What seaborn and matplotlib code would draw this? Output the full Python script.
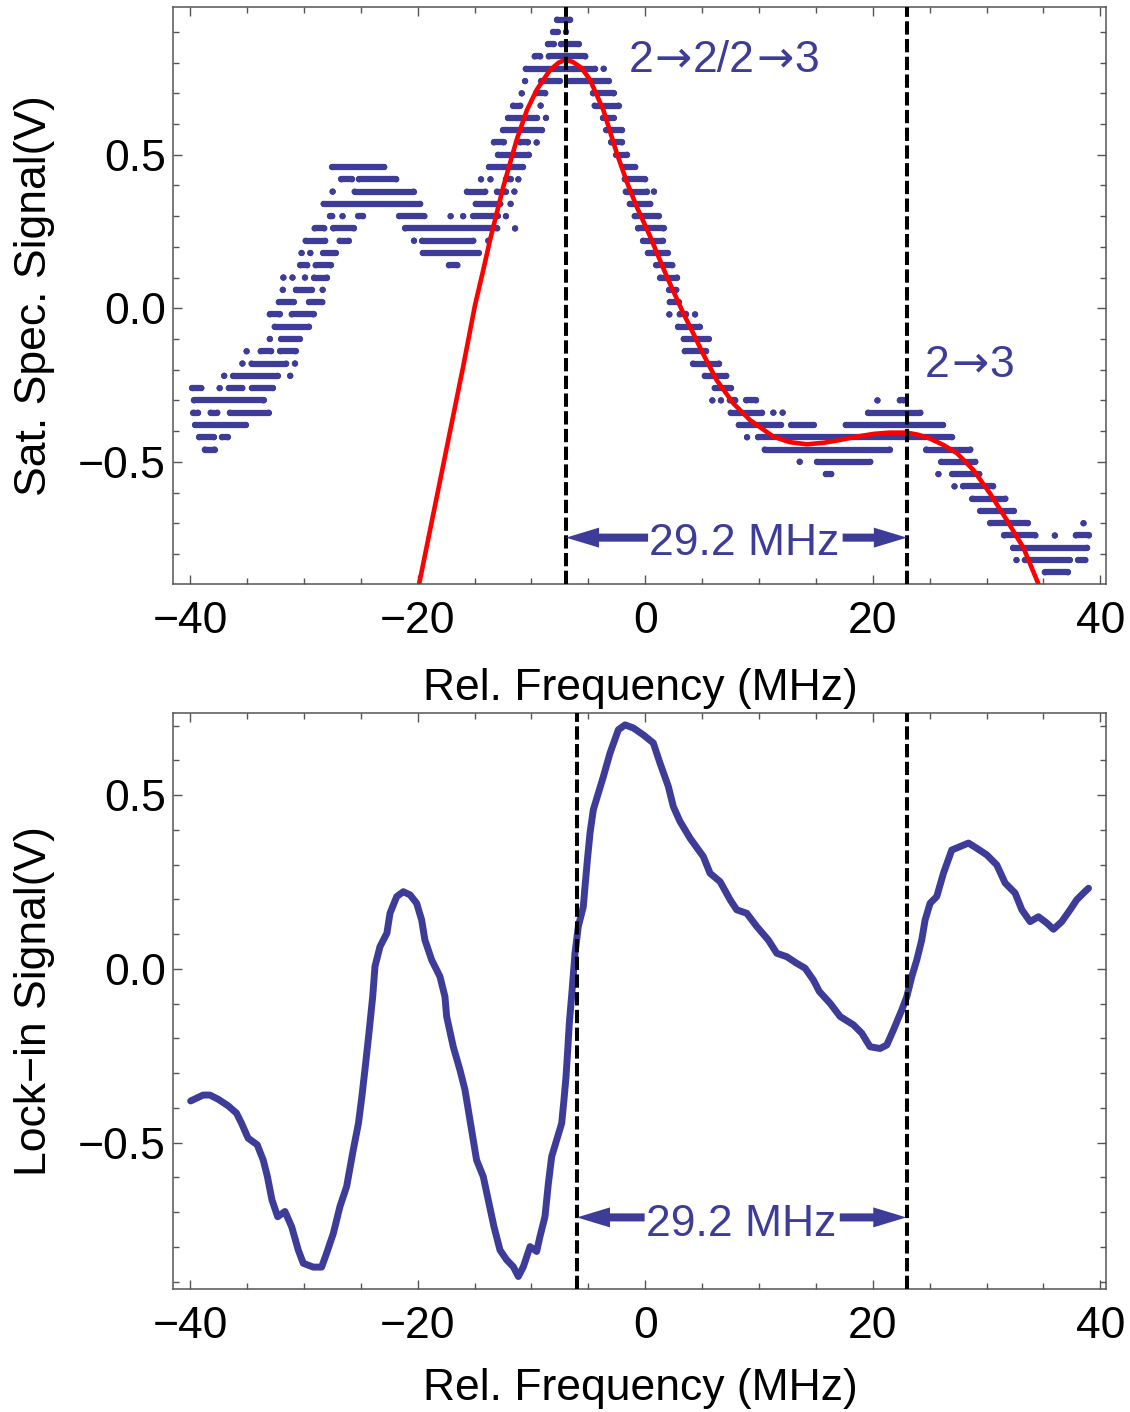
import numpy as np
import pandas as pd
import matplotlib
matplotlib.use("Agg")
import matplotlib.pyplot as plt
import seaborn as sns
from matplotlib.ticker import MultipleLocator, FuncFormatter

# ---------------- data ----------------
# Saturated-absorption signal: digitised levels (V) shown as horizontal runs of samples
# each run: level, start frequency, end frequency (MHz); start == end means a single sample
sat_level = [
    0.94,
    0.90, 0.90,
    0.86, 0.86,
    0.82, 0.82,
    0.78, 0.78,
    0.74, 0.74, 0.74,
    0.70, 0.70, 0.70,
    0.66, 0.66, 0.66,
    0.62, 0.62, 0.62,
    0.58, 0.58,
    0.54, 0.54, 0.54, 0.54,
    0.50, 0.50,
    0.46, 0.46, 0.46,
    0.42, 0.42, 0.42, 0.42, 0.42, 0.42, 0.42,
    0.38, 0.38, 0.38, 0.38, 0.38, 0.38, 0.38,
    0.34, 0.34, 0.34, 0.34,
    0.30, 0.30, 0.30, 0.30, 0.30, 0.30, 0.30, 0.30, 0.30,
    0.26, 0.26, 0.26, 0.26, 0.26,
    0.22, 0.22, 0.22, 0.22, 0.22, 0.22,
    0.18, 0.18, 0.18, 0.18, 0.18,
    0.14, 0.14, 0.14, 0.14,
    0.10, 0.10, 0.10, 0.10, 0.10,
    0.06, 0.06, 0.06, 0.06,
    0.02, 0.02, 0.02,
    -0.02, -0.02, -0.02, -0.02, -0.02,
    -0.06, -0.06,
    -0.10, -0.10, -0.10,
    -0.14, -0.14, -0.14, -0.14,
    -0.18, -0.18, -0.18, -0.18,
    -0.22, -0.22, -0.22, -0.22,
    -0.26, -0.26, -0.26, -0.26, -0.26,
    -0.30, -0.30, -0.30, -0.30, -0.30, -0.30, -0.30,
    -0.34, -0.34, -0.34, -0.34, -0.34, -0.34, -0.34,
    -0.38, -0.38, -0.38, -0.38,
    -0.42, -0.42, -0.42, -0.42,
    -0.46, -0.46, -0.46,
    -0.50, -0.50, -0.50,
    -0.54, -0.54, -0.54,
    -0.58, -0.58,
    -0.62,
    -0.66,
    -0.70, -0.70,
    -0.74, -0.74, -0.74,
    -0.78,
    -0.82, -0.82, -0.82,
    -0.86,
]
sat_x0 = [
    -7.75,
    -8.1, -6.96,
    -8.55, -7.4,
    -9.72, -8.48,
    -10.5, -3.65,
    -10.56, -9.13, -6.64,
    -10.85, -9.57, -4.59,
    -11.6, -9.19, -4.45,
    -12.06, -8.72, -3.71,
    -12.5, -3.41,
    -13.3, -11.0, -9.54, -2.98,
    -12.94, -2.53,
    -27.5, -13.73, -1.95,
    -26.7, -25.16, -14.43, -13.6, -12.24, -11.15, -1.8,
    -27.47, -25.54, -15.67, -13.03, -11.5, -1.71, 0.77,
    -28.27, -14.9, -11.83, -1.36,
    -27.7, -26.6, -25.2, -21.6, -17.1, -16.0, -15.1, -12.24, -0.93,
    -29.06, -27.4, -21.1, -11.44, -0.63,
    -29.85, -26.86, -20.32, -19.6, -13.79, -0.19,
    -30.2, -29.43, -28.3, -19.55, 0.24,
    -30.3, -28.97, -17.25, 0.98,
    -31.8, -31.0, -29.9, -29.1, 1.33,
    -31.85, -30.7, -28.35, 2.1,
    -32.2, -29.55, 2.15,
    -33.0, -31.07, 2.12, 3.03, 4.38,
    -32.57, 2.89,
    -32.99, -31.99, 3.38,
    -35.03, -33.8, -32.07, 3.47,
    -35.4, -34.6, -30.78, 4.2,
    -37.0, -36.2, -31.2, 5.23,
    -39.8, -37.4, -36.6, -34.57, 6.1,
    -39.66, 5.9, 6.66, 7.43, 8.89, 20.41, 22.37,
    -39.7, -38.2, -36.5, 7.51, 11.26, 12.08, 19.59,
    -39.55, 8.22, 12.85, 17.62,
    -39.2, -37.2, 8.95, 9.92,
    -38.7, 10.5, 24.71,
    13.58, 15.1, 26.03,
    15.87, 25.77, 27.0,
    27.18, 27.94,
    28.76,
    29.46,
    30.34, 38.52,
    31.54, 36.0, 37.84,
    32.33,
    32.63, 33.36, 38.05,
    35.12,
]
sat_x1 = [
    -6.6,
    -7.7, -6.96,
    -8.05, -5.85,
    -9.22, -5.26,
    -4.4, -3.65,
    -10.56, -7.52, -3.21,
    -10.85, -8.78, -2.77,
    -10.97, -9.19, -2.34,
    -9.51, -8.72, -2.77,
    -9.07, -2.04,
    -12.44, -10.33, -9.54, -2.04,
    -10.24, -1.6,
    -22.93, -10.74, -0.87,
    -25.77, -21.88, -14.43, -13.6, -11.83, -11.15, 0.0,
    -27.47, -20.35, -14.05, -12.24, -11.5, 0.16, 0.77,
    -19.77, -12.73, -11.83, 0.45,
    -27.5, -26.6, -24.8, -19.4, -17.1, -16.0, -12.97, -12.24, 1.18,
    -28.2, -25.6, -13.0, -11.44, 1.62,
    -28.12, -26.07, -20.32, -15.1, -13.79, 1.56,
    -30.2, -29.43, -27.2, -14.64, 1.97,
    -29.7, -27.62, -16.5, 2.39,
    -31.8, -31.0, -29.9, -27.97, 2.8,
    -31.85, -29.3, -28.35, 2.74,
    -30.9, -28.37, 2.94,
    -32.13, -29.15, 2.12, 3.59, 4.38,
    -29.55, 4.79,
    -32.99, -30.37, 5.58,
    -35.03, -32.87, -30.73, 5.35,
    -35.4, -31.55, -30.78, 6.49,
    -37.0, -32.3, -31.2, 7.13,
    -39.0, -37.4, -35.4, -32.72, 7.54,
    -33.54, 5.9, 6.66, 7.92, 9.74, 20.41, 22.72,
    -39.3, -37.6, -33.1, 10.27, 11.26, 12.08, 24.19,
    -35.1, 11.94, 14.81, 26.18,
    -37.9, -36.7, 8.95, 26.97,
    -37.85, 21.49, 28.58,
    13.58, 19.79, 29.02,
    16.36, 25.77, 29.37,
    27.18, 30.58,
    31.66,
    32.39,
    33.62, 38.52,
    34.3, 36.0, 38.99,
    38.84,
    32.63, 37.29, 38.69,
    37.14,
]

# fitted curve (red)
fit_x = [-20.3, -19.86, -19.0, -18.0, -17.0, -16.0, -14.96, -14.2, -13.64, -12.47,
         -11.3, -10.4, -9.54, -8.37, -7.6, -7.05, -6.4, -5.6, -4.85, -3.68,
         -2.5, -1.6, -0.75, 0.42, 1.2, 2.03, 3.35, 4.2, 5.11, 6.28,
         7.75, 9.21, 11.26, 12.7, 14.2, 15.7, 17.1, 18.6, 20.1, 21.5,
         23.0, 24.0, 25.0, 26.2, 27.4, 28.85, 30.3, 31.78, 33.24, 34.56, 34.9]
fit_y = [-0.98, -0.896, -0.739, -0.556, -0.373, -0.19, 0.01, 0.13, 0.222, 0.396,
         0.548, 0.645, 0.711, 0.776, 0.800, 0.809, 0.803, 0.783, 0.744, 0.646,
         0.505, 0.41, 0.331, 0.235, 0.165, 0.092, -0.016, -0.08, -0.15, -0.234,
         -0.31, -0.364, -0.418, -0.436, -0.443, -0.438, -0.429, -0.418, -0.409, -0.405,
         -0.405, -0.412, -0.424, -0.445, -0.472, -0.527, -0.603, -0.69, -0.78, -0.898, -0.93]

# lock-in (error) signal
lock_x = [-39.95, -38.85, -38.26, -37.53, -36.65, -35.92, -35.48, -34.9, -34.1, -33.57,
          -33.2, -32.8, -32.3, -31.66, -31.07, -30.49, -30.05, -29.17, -28.44, -28.0,
          -27.41, -26.83, -26.24, -25.66, -25.2, -24.9, -24.6, -24.28, -23.95, -23.75,
          -23.31, -22.7, -22.43, -21.84, -21.26, -20.67, -20.09, -19.65, -19.36, -18.77,
          -18.04, -17.6, -17.45, -16.87, -16.28, -15.84, -15.26, -14.82, -14.23, -13.79,
          -13.29, -12.76, -12.18, -11.59, -11.15, -10.71, -10.12, -9.54, -9.25, -8.81,
          -8.51, -8.22, -7.78, -7.34, -7.14, -6.96, -6.81, -6.67, -6.46, -6.17,
          -5.88, -5.44, -5.29, -5.08, -4.85, -4.56, -4.12, -3.68, -3.09, -2.36,
          -1.77, -1.04, -0.16, 0.71, 1.3, 2.03, 2.47, 3.06, 3.94, 5.11,
          5.7, 6.58, 7.46, 8.04, 8.92, 9.8, 10.82, 11.56, 12.44, 13.32,
          14.05, 14.78, 15.3, 16.25, 17.13, 18.3, 19.03, 19.76, 20.64, 21.23,
          21.81, 22.55, 22.99, 23.43, 23.87, 24.3, 24.6, 25.04, 25.62, 26.21,
          26.94, 27.67, 28.41, 29.14, 30.02, 30.9, 31.63, 32.51, 33.1, 33.83,
          34.56, 35.29, 35.88, 36.61, 37.34, 37.93, 38.51, 38.96]
lock_y = [-0.38, -0.363, -0.363, -0.375, -0.394, -0.415, -0.444, -0.487, -0.506, -0.55,
          -0.598, -0.665, -0.713, -0.698, -0.742, -0.809, -0.847, -0.858, -0.858, -0.818,
          -0.761, -0.684, -0.626, -0.521, -0.444, -0.367, -0.281, -0.185, -0.08, 0.007,
          0.064, 0.103, 0.16, 0.208, 0.222, 0.213, 0.189, 0.141, 0.083, 0.026,
          -0.022, -0.08, -0.137, -0.224, -0.291, -0.348, -0.463, -0.55, -0.598, -0.665,
          -0.742, -0.809, -0.837, -0.857, -0.885, -0.857, -0.799, -0.813, -0.77, -0.713,
          -0.617, -0.54, -0.492, -0.444, -0.377, -0.31, -0.233, -0.156, -0.075, 0.045,
          0.122, 0.179, 0.237, 0.314, 0.391, 0.458, 0.506, 0.553, 0.621, 0.688,
          0.702, 0.693, 0.673, 0.65, 0.592, 0.525, 0.467, 0.424, 0.376, 0.323,
          0.275, 0.251, 0.199, 0.17, 0.16, 0.122, 0.083, 0.045, 0.035, 0.016,
          0.002, -0.032, -0.065, -0.099, -0.137, -0.161, -0.185, -0.224, -0.229, -0.219,
          -0.176, -0.118, -0.08, -0.022, 0.026, 0.083, 0.141, 0.189, 0.208, 0.275,
          0.342, 0.352, 0.362, 0.347, 0.328, 0.299, 0.247, 0.218, 0.17, 0.136,
          0.15, 0.132, 0.114, 0.136, 0.17, 0.199, 0.218, 0.232]

# marker lines (MHz) and labels
top_lines = [-6.96, 23.0]
bottom_lines = [-6.0, 23.0]
spacing_label = "29.2 MHz"
peak_label_1 = ["2", "→", "2/2", "→", "3"]
peak_label_2 = ["2", "→", "3"]

# ---------------- style ----------------
sns.set_theme(style="ticks")
plt.rcParams['font.family'] = ['Liberation Sans', 'DejaVu Sans']
plt.rcParams['axes.unicode_minus'] = True

blue = "#3d3d99"
frame = "#555555"
FS = 32
TEXT_FAM = ['Liberation Sans', 'DejaVu Sans']
ARROW_FAM = ['DejaVu Sans']

fig = plt.figure(figsize=(11.3, 14.12), dpi=100)
ax1 = fig.add_axes([0.1531, 0.5864, 0.8257, 0.4086])
ax2 = fig.add_axes([0.1531, 0.0871, 0.8257, 0.4079])

def fmt_y(v, pos):
    return f"{v:.1f}".replace("-", "\u2212")

def fmt_x(v, pos):
    return f"{v:.0f}".replace("-", "\u2212")

for ax in (ax1, ax2):
    ax.set_facecolor("white")
    for s in ax.spines.values():
        s.set_color(frame)
        s.set_linewidth(1.1)
        s.set_visible(True)
    ax.set_xlim(-41.5, 40.5)
    ax.xaxis.set_major_locator(MultipleLocator(20))
    ax.xaxis.set_minor_locator(MultipleLocator(5))
    ax.yaxis.set_major_locator(MultipleLocator(0.5))
    ax.yaxis.set_minor_locator(MultipleLocator(0.1))
    ax.xaxis.set_major_formatter(FuncFormatter(fmt_x))
    ax.yaxis.set_major_formatter(FuncFormatter(fmt_y))
    ax.tick_params(which='both', direction='in', top=True, right=True,
                   color=frame, width=1.0, labelsize=FS, labelcolor='black')
    ax.tick_params(which='major', length=6.5)
    ax.tick_params(which='minor', length=4.2)
    ax.tick_params(axis='x', which='major', pad=12.5)
    ax.tick_params(axis='y', which='major', pad=5)
    ax.set_xlabel("Rel. Frequency (MHz)", fontsize=FS, color='black')

ax1.set_ylim(-0.898, 0.981)
ax2.set_ylim(-0.921, 0.736)


def chain_text(ax, x, y, pieces):
    t = ax.text(x, y, pieces[0], color=blue, fontsize=FS, ha='left',
                va='baseline', family=TEXT_FAM)
    for p in pieces[1:]:
        fam = ARROW_FAM if p == "→" else TEXT_FAM
        t = ax.annotate(p, xy=(1, 0), xycoords=t, xytext=(0.9, 0),
                        textcoords='offset points', ha='left', va='bottom',
                        color=blue, fontsize=FS, family=fam)
    return t


arrow_style = "simple,head_length=1.19,head_width=0.72,tail_width=0.29"
def arrow(ax, x_tail, x_head, y):
    ax.annotate("", xy=(x_head, y), xytext=(x_tail, y),
                arrowprops=dict(arrowstyle=arrow_style, color=blue, shrinkA=0,
                                shrinkB=0, mutation_scale=20, linewidth=0),
                zorder=5)

# ---- top panel ----
ax1.hlines(sat_level, sat_x0, sat_x1, colors=blue, linewidth=4.5,
           capstyle='round', zorder=2)
sns.scatterplot(x=sat_x0 + sat_x1, y=sat_level + sat_level, ax=ax1, color=blue,
                s=20, linewidth=0, edgecolor='none', zorder=2, legend=False)
sns.lineplot(x=fit_x, y=fit_y, ax=ax1, color='red', linewidth=3.3, sort=False,
             estimator=None, zorder=3)
for xv in top_lines:
    ax1.axvline(xv, color='black', linewidth=2.9, dashes=(3.3, 1.1), zorder=4)
ax1.set_ylabel("Sat. Spec. Signal(V)", fontsize=FS, color='black')

chain_text(ax1, -1.45, 0.770, peak_label_1)
chain_text(ax1, 24.6, -0.223, peak_label_2)
ax1.text(8.7, -0.804, spacing_label, color=blue, fontsize=FS, ha='center', va='baseline')
arrow(ax1, 0.25, top_lines[0], -0.747)
arrow(ax1, 17.35, top_lines[1], -0.747)

# ---- bottom panel ----
sns.lineplot(x=lock_x, y=lock_y, ax=ax2, color=blue, linewidth=5.0, sort=False,
             estimator=None, zorder=2)
for ln in ax2.lines:
    ln.set_solid_capstyle('round')
    ln.set_solid_joinstyle('round')
for xv in bottom_lines:
    ax2.axvline(xv, color='black', linewidth=2.9, dashes=(3.3, 1.1), zorder=4)
ax2.set_ylabel("Lock\u2212in Signal(V)", fontsize=FS, color='black')
ax2.text(8.45, -0.768, spacing_label, color=blue, fontsize=FS, ha='center', va='baseline')
arrow(ax2, -0.05, bottom_lines[0], -0.715)
arrow(ax2, 17.1, bottom_lines[1] - 0.05, -0.715)

for ax in (ax1, ax2):
    ax.yaxis.set_label_coords(-0.1268, 0.5)
ax1.xaxis.set_label_coords(0.5013, -0.146)
ax2.xaxis.set_label_coords(0.5013, -0.137)

fig.savefig("out.png", dpi=100, facecolor="white")
